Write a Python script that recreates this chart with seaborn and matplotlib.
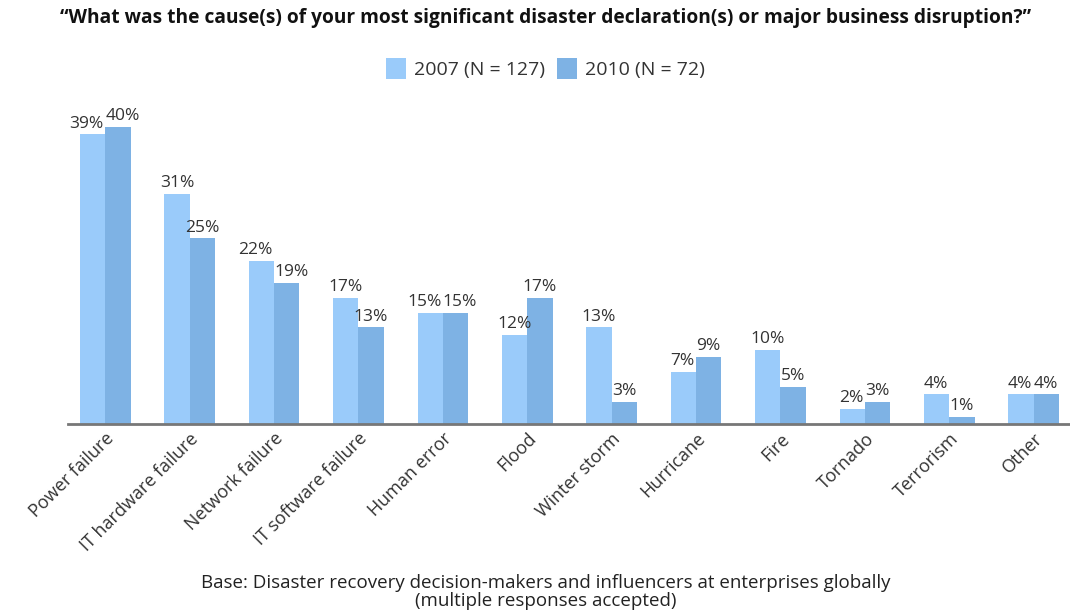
import matplotlib
matplotlib.use("Agg")
import matplotlib.pyplot as plt
import seaborn as sns
import pandas as pd
from matplotlib.patches import Patch

categories = ["Power failure", "IT hardware failure", "Network failure",
              "IT software failure", "Human error", "Flood", "Winter storm",
              "Hurricane", "Fire", "Tornado", "Terrorism", "Other"]
values_2007 = [39, 31, 22, 17, 15, 12, 13, 7, 10, 2, 4, 4]
values_2010 = [40, 25, 19, 13, 15, 17, 3, 9, 5, 3, 1, 4]
series_names = ["2007 (N = 127)", "2010 (N = 72)"]
colors = ["#9acbfa", "#7eb2e4"]

title = "\u201cWhat was the cause(s) of your most significant disaster declaration(s) or major business disruption?\u201d"
footnote = "Base: Disaster recovery decision-makers and influencers at enterprises globally\n(multiple responses accepted)"

df = pd.DataFrame({
    "cause": categories * 2,
    "pct": values_2007 + values_2010,
    "year": [series_names[0]] * len(categories) + [series_names[1]] * len(categories),
})

sns.set_theme(style="white")
plt.rcParams["font.family"] = ["Open Sans", "DejaVu Sans"]

fig = plt.figure(figsize=(10.7, 6.16), dpi=100)
ax = fig.add_axes([0.0636, 0.3117, 0.9364, 0.51])

sns.barplot(data=df, x="cause", y="pct", hue="year", order=categories,
            hue_order=series_names, palette=colors, width=0.6,
            saturation=1, linewidth=0, ax=ax, legend=False)

# Value labels: centred over each bar, but pushed apart when the two
# labels of a group sit at nearly the same height.
label_kw = dict(fontsize=12.5, color="#333333", va="bottom")
left_bars, right_bars = ax.containers[0], ax.containers[1]
for lb, rb, lv, rv in zip(left_bars, right_bars,
                          left_bars.datavalues, right_bars.datavalues):
    close = abs(lv - rv) <= 3
    mid = lb.get_x() + lb.get_width()
    if close:
        ax.annotate(f"{int(lv)}%", (mid, lv), xytext=(-1, 2),
                    textcoords="offset points", ha="right", **label_kw)
        ax.annotate(f"{int(rv)}%", (mid, rv), xytext=(0, 2),
                    textcoords="offset points", ha="left", **label_kw)
    else:
        ax.annotate(f"{int(lv)}%", (lb.get_x() + lb.get_width() / 2, lv),
                    xytext=(0, 2), textcoords="offset points", ha="center", **label_kw)
        ax.annotate(f"{int(rv)}%", (rb.get_x() + rb.get_width() / 2, rv),
                    xytext=(0, 2), textcoords="offset points", ha="center", **label_kw)

ax.set_ylim(0, 42.3)
ax.set_xlim(-0.44, 11.43)
ax.set_xlabel("")
ax.set_ylabel("")
ax.set_yticks([])
for side in ["top", "right", "left"]:
    ax.spines[side].set_visible(False)
ax.spines["bottom"].set_color("#777777")
ax.spines["bottom"].set_linewidth(2)
ax.tick_params(axis="x", length=0, pad=4)
ax.set_xticks(range(len(categories)))
ax.set_xticklabels(categories, rotation=45, ha="right", rotation_mode="anchor",
                   fontsize=13, color="#333333")

handles = [Patch(facecolor=c, edgecolor="none") for c in colors]
fig.legend(handles, series_names, loc="center", bbox_to_anchor=(0.51, 0.889),
           ncol=2, frameon=False, fontsize=14, handlelength=1.0, handleheight=1.3,
           handletextpad=0.45, columnspacing=0.6, labelcolor="#333333")

fig.text(0.51, 0.971, title, ha="center", va="center", fontsize=13.8,
         fontweight="bold", color="#111111")
fig.text(0.51, 0.039, footnote, ha="center", va="center", fontsize=13.5,
         color="#222222", linespacing=1.05)

fig.savefig("out.png", dpi=100, facecolor="white")
